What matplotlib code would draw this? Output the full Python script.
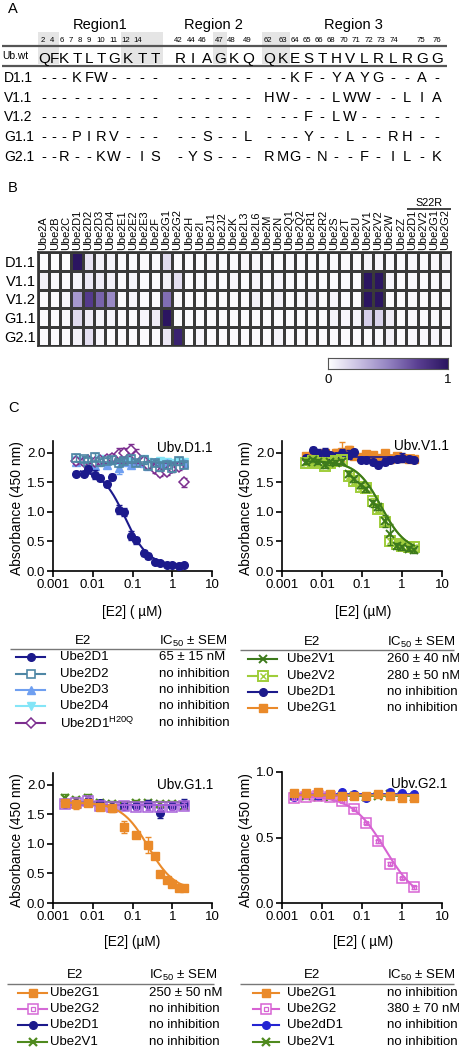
import numpy as np
import matplotlib
matplotlib.use('Agg')
import matplotlib.pyplot as plt
from matplotlib.lines import Line2D
from matplotlib.patches import Rectangle
from matplotlib.colors import LinearSegmentedColormap
from matplotlib.ticker import NullLocator

plt.rcParams['font.family'] = ['Liberation Sans', 'DejaVu Sans']
plt.rcParams['mathtext.fontset'] = 'custom'
plt.rcParams['mathtext.rm'] = 'Liberation Sans'
plt.rcParams['mathtext.it'] = 'Liberation Sans'

# ---------------------------------------------------------------- data
# Panel A: sequences
region_names = ['Region1', 'Region 2', 'Region 3']
positions = [[2, 4, 6, 7, 8, 9, 10, 11, 12, 14],
             [42, 44, 46, 47, 48, 49],
             [62, 63, 64, 65, 66, 68, 70, 71, 72, 73, 74, 75, 76]]
wt_seq = ['QFKTLTGKTT', 'RIAGKQ', 'QKESTHVLRLRGG']
variant_names = ['D1.1', 'V1.1', 'V1.2', 'G1.1', 'G2.1']
seq_D1_1 = ['---KFW----', '------', '--KF-YAYG--A-']
seq_V1_1 = ['----------', '------', 'HW---LWW--LIA']
seq_V1_2 = ['----------', '------', '---F-LW------']
seq_G1_1 = ['---PIRV---', '--S--L', '---Y--L--RH--']
seq_G2_1 = ['--R--KW-IS', '-YS---', 'RMG-N--F-IL-K']
variant_seqs = [seq_D1_1, seq_V1_1, seq_V1_2, seq_G1_1, seq_G2_1]

# Panel B: heatmap
e2_names = ['Ube2A', 'Ube2B', 'Ube2C', 'Ube2D1', 'Ube2D2', 'Ube2D3', 'Ube2D4',
            'Ube2E1', 'Ube2E2', 'Ube2E3', 'Ube2F', 'Ube2G1', 'Ube2G2', 'Ube2H',
            'Ube2I', 'Ube2J1', 'Ube2J2', 'Ube2K', 'Ube2L3', 'Ube2L6', 'Ube2M',
            'Ube2N', 'Ube2Q1', 'Ube2Q2', 'Ube2R1', 'Ube2R2', 'Ube2S', 'Ube2T',
            'Ube2U', 'Ube2V1', 'Ube2V2', 'Ube2W', 'Ube2Z',
            'Ube2D1', 'Ube2V2', 'Ube2G1', 'Ube2G2']
hm_D1_1 = [0.01, 0.01, 0.01, 1.00, 0.12, 0.06, 0.05, 0.02, 0.02, 0.02, 0.02, 0.15, 0.02,
           0.02, 0.02, 0.03, 0.02, 0.02, 0.03, 0.03, 0.02, 0.02, 0.03, 0.02, 0.02, 0.02,
           0.02, 0.02, 0.02, 0.05, 0.04, 0.03, 0.02, 0.03, 0.02, 0.03, 0.04]
hm_V1_1 = [0.06, 0.03, 0.02, 0.05, 0.09, 0.08, 0.06, 0.02, 0.05, 0.02, 0.02, 0.06, 0.13,
           0.02, 0.03, 0.03, 0.02, 0.04, 0.02, 0.04, 0.02, 0.04, 0.03, 0.02, 0.02, 0.02,
           0.02, 0.02, 0.02, 1.00, 1.00, 0.05, 0.02, 0.03, 0.02, 0.03, 0.03]
hm_V1_2 = [0.02, 0.02, 0.04, 0.42, 0.78, 0.62, 0.48, 0.02, 0.04, 0.02, 0.02, 0.58, 0.03,
           0.02, 0.02, 0.02, 0.02, 0.02, 0.02, 0.06, 0.02, 0.06, 0.02, 0.03, 0.06, 0.02,
           0.04, 0.02, 0.02, 1.00, 1.00, 0.02, 0.02, 0.03, 0.02, 0.02, 0.02]
hm_G1_1 = [0.02, 0.02, 0.03, 0.15, 0.08, 0.05, 0.05, 0.02, 0.02, 0.04, 0.08, 1.00, 0.02,
           0.02, 0.02, 0.02, 0.02, 0.02, 0.02, 0.02, 0.02, 0.02, 0.02, 0.02, 0.02, 0.02,
           0.05, 0.04, 0.05, 0.20, 0.18, 0.08, 0.02, 0.03, 0.02, 0.03, 0.02]
hm_G2_1 = [0.02, 0.02, 0.02, 0.06, 0.13, 0.04, 0.02, 0.02, 0.02, 0.02, 0.02, 0.10, 0.92,
           0.02, 0.04, 0.02, 0.02, 0.02, 0.02, 0.02, 0.02, 0.05, 0.02, 0.02, 0.02, 0.02,
           0.02, 0.02, 0.02, 0.02, 0.03, 0.06, 0.02, 0.03, 0.03, 0.04, 0.02]

# Panel C: ELISA data (concentration in uM, absorbance at 450 nm)
conc_dense = [0.0039, 0.0059, 0.0078, 0.0117, 0.0156, 0.023, 0.031, 0.047, 0.0625, 0.094,
              0.125, 0.19, 0.25, 0.375, 0.5, 0.75, 1.0, 1.5, 2.0]
conc_2fold = [0.00195, 0.0039, 0.0078, 0.0156, 0.031, 0.0625, 0.125, 0.25, 0.5, 1.0, 2.0]
conc_G11_G1 = [0.00195, 0.0039, 0.0078, 0.0156, 0.031, 0.0625, 0.125, 0.25, 0.375, 0.5,
               0.75, 1.0, 1.5, 2.0]

# Ubv.D1.1
d11_D1 = [1.65, 1.64, 1.72, 1.63, 1.58, 1.47, 1.59, 1.04, 1.00, 0.60, 0.52, 0.31, 0.25, 0.15,
          0.14, 0.11, 0.11, 0.09, 0.10]
d11_D1_err = [0.05, 0.04, 0.06, 0.08, 0.05, 0.04, 0.05, 0.08, 0.07, 0.07, 0.06, 0.05, 0.05,
              0.03, 0.03, 0.03, 0.03, 0.05, 0.03]
d11_D2 = [1.92, 1.90, 1.85, 1.93, 1.84, 1.86, 1.88, 1.82, 1.86, 1.90, 1.83, 1.88, 1.78, 1.83,
          1.76, 1.80, 1.74, 1.86, 1.79]
d11_D2_err = [0.06, 0.05, 0.08, 0.07, 0.06, 0.05, 0.07, 0.06, 0.05, 0.06, 0.05, 0.07, 0.06,
              0.05, 0.06, 0.05, 0.06, 0.07, 0.05]
d11_D3 = [1.85, 1.88, 1.82, 1.78, 1.86, 1.80, 1.90, 1.74, 1.84, 1.80, 1.86, 1.82, 1.78, 1.84,
          1.80, 1.82, 1.77, 1.80, 1.82]
d11_D3_err = [0.05, 0.05, 0.06, 0.05, 0.06, 0.05, 0.08, 0.10, 0.05, 0.06, 0.05, 0.05, 0.06,
              0.05, 0.05, 0.05, 0.06, 0.05, 0.05]
d11_D4 = [1.88, 1.84, 1.86, 1.83, 1.90, 1.85, 1.87, 1.86, 1.92, 1.88, 1.84, 1.90, 1.85, 1.82,
          1.86, 1.84, 1.83, 1.86, 1.85]
d11_D4_err = [0.05, 0.05, 0.05, 0.06, 0.05, 0.05, 0.06, 0.05, 0.05, 0.06, 0.05, 0.05, 0.05,
              0.06, 0.05, 0.05, 0.05, 0.05, 0.05]
d11_H20Q = [1.86, 1.84, 1.88, 1.85, 1.87, 1.90, 1.92, 1.98, 2.00, 2.05, 1.95, 1.86, 1.80,
            1.72, 1.66, 1.68, 1.74, 1.76, 1.50]
d11_H20Q_err = [0.05, 0.05, 0.05, 0.05, 0.05, 0.06, 0.06, 0.10, 0.08, 0.10, 0.12, 0.06, 0.05,
                0.06, 0.05, 0.06, 0.07, 0.05, 0.08]
d11_fit = [1.72, 0.09, 0.065, 1.5]          # top, bottom, IC50 (uM), Hill

# Ubv.V1.1
v11_V1 = [1.85, 1.88, 1.85, 1.80, 1.84, 1.83, 1.85, 1.65, 1.55, 1.45, 1.38, 1.15, 1.08, 0.85,
          0.62, 0.42, 0.40, 0.38, 0.35]
v11_V1_err = [0.04, 0.04, 0.04, 0.05, 0.04, 0.04, 0.05, 0.05, 0.04, 0.04, 0.05, 0.06, 0.05,
              0.10, 0.18, 0.05, 0.04, 0.04, 0.04]
v11_V2 = [1.83, 1.86, 1.82, 1.78, 1.82, 1.86, 1.88, 1.60, 1.52, 1.42, 1.40, 1.18, 1.05, 0.83,
          0.50, 0.45, 0.42, 0.40, 0.40]
v11_V2_err = [0.04, 0.04, 0.04, 0.04, 0.04, 0.04, 0.05, 0.05, 0.04, 0.04, 0.04, 0.05, 0.05,
              0.05, 0.06, 0.04, 0.04, 0.04, 0.04]
v11_D1 = [1.92, 2.05, 2.00, 2.02, 1.97, 1.95, 2.00, 1.97, 2.02, 1.88, 1.88, 1.85, 1.80, 1.85,
          1.88, 1.90, 1.92, 1.90, 1.88]
v11_D1_err = [0.04, 0.05, 0.06, 0.06, 0.05, 0.05, 0.06, 0.08, 0.05, 0.04, 0.04, 0.05, 0.06,
              0.06, 0.05, 0.05, 0.08, 0.05, 0.04]
v11_G1 = [1.95, 1.97, 1.98, 2.00, 1.95, 2.00, 2.02, 2.05, 1.95, 1.93, 1.98, 1.97, 1.92, 2.00,
          1.90, 1.95, 1.92, 1.90, 1.90]
v11_G1_err = [0.04, 0.05, 0.05, 0.05, 0.05, 0.06, 0.16, 0.06, 0.05, 0.04, 0.05, 0.05, 0.05,
              0.05, 0.05, 0.05, 0.05, 0.04, 0.04]
v11_fit = [1.86, 0.33, 0.30, 1.4]

# Ubv.G1.1
g11_G1 = [1.70, 1.67, 1.70, 1.62, 1.60, 1.29, 1.15, 0.98, 0.80, 0.49, 0.39, 0.33, 0.25, 0.25]
g11_G1_err = [0.05, 0.08, 0.05, 0.05, 0.06, 0.10, 0.05, 0.14, 0.05, 0.04, 0.04, 0.04, 0.03, 0.03]
g11_G2 = [1.68, 1.70, 1.73, 1.65, 1.62, 1.65, 1.62, 1.63, 1.62, 1.63, 1.65]
g11_G2_err = [0.05, 0.05, 0.06, 0.05, 0.05, 0.06, 0.05, 0.05, 0.05, 0.05, 0.06]
g11_D1 = [1.68, 1.70, 1.72, 1.70, 1.62, 1.65, 1.65, 1.68, 1.52, 1.65, 1.68]
g11_D1_err = [0.05, 0.05, 0.05, 0.05, 0.05, 0.05, 0.05, 0.06, 0.08, 0.06, 0.08]
g11_V1 = [1.78, 1.75, 1.78, 1.70, 1.68, 1.65, 1.70, 1.70, 1.68, 1.68, 1.65]
g11_V1_err = [0.06, 0.05, 0.06, 0.05, 0.05, 0.05, 0.05, 0.05, 0.05, 0.05, 0.05]
g11_fit = [1.70, 0.20, 0.25, 1.3]

# Ubv.G2.1
g21_G1 = [0.84, 0.84, 0.85, 0.83, 0.82, 0.82, 0.82, 0.83, 0.82, 0.80, 0.80]
g21_G2 = [0.80, 0.81, 0.82, 0.81, 0.78, 0.72, 0.61, 0.47, 0.30, 0.19, 0.12]
g21_D1 = [0.81, 0.83, 0.82, 0.83, 0.85, 0.83, 0.80, 0.83, 0.85, 0.84, 0.83]
g21_V1 = [0.82, 0.82, 0.81, 0.81, 0.82, 0.82, 0.81, 0.82, 0.83, 0.82, 0.81]
g21_err = [0.01, 0.01, 0.01, 0.01, 0.01, 0.01, 0.01, 0.01, 0.01, 0.01, 0.01]
g21_fit = [0.82, 0.0, 0.38, 1.05]

# Legend tables
tab_D11_names = ['Ube2D1', 'Ube2D2', 'Ube2D3', 'Ube2D4', r'Ube2D1$^{\mathregular{H20Q}}$']
tab_D11_vals = ['65 ± 15 nM', 'no inhibition', 'no inhibition', 'no inhibition', 'no inhibition']
tab_V11_names = ['Ube2V1', 'Ube2V2', 'Ube2D1', 'Ube2G1']
tab_V11_vals = ['260 ± 40 nM', '280 ± 50 nM', 'no inhibition', 'no inhibition']
tab_G11_names = ['Ube2G1', 'Ube2G2', 'Ube2D1', 'Ube2V1']
tab_G11_vals = ['250 ± 50 nM', 'no inhibition', 'no inhibition', 'no inhibition']
tab_G21_names = ['Ube2G1', 'Ube2G2', 'Ube2dD1', 'Ube2V1']
tab_G21_vals = ['no inhibition', '380 ± 70 nM', 'no inhibition', 'no inhibition']

# ---------------------------------------------------------------- styles
navy = '#1c1a8c'
st_D1 = dict(color=navy, marker='o', mfc=navy, ms=5.5, mew=1.0)
st_D1b = dict(color='#2424d2', marker='o', mfc='#2424d2', ms=5.5, mew=1.0)
st_D2 = dict(color='#4f87a5', marker='s', mfc='none', ms=6, mew=1.2)
st_D3 = dict(color='#6f9ff0', marker='^', mfc='#6f9ff0', ms=6, mew=1.0)
st_D4 = dict(color='#84e5f7', marker='v', mfc='#84e5f7', ms=6, mew=1.0)
st_H20Q = dict(color='#7c2e8f', marker='D', mfc='white', ms=5, mew=1.1)
st_V1 = dict(color='#3d7a1c', marker='x', mfc='#3d7a1c', ms=6, mew=1.4)
st_V1b = dict(color='#4f8a1e', marker='x', mfc='#4f8a1e', ms=6, mew=1.6)
st_V2 = dict(color='#9fcd3a', marker='s', mfc='none', ms=6.5, mew=1.4, inner='x')
st_G1 = dict(color='#ea8a2a', marker='s', mfc='#ea8a2a', ms=6, mew=1.0)
st_G2a = dict(color='#a862da', marker='s', mfc='none', ms=6.5, mew=1.1, inner='s')
st_G2b = dict(color='#d763d3', marker='s', mfc='none', ms=6.5, mew=1.1, inner='s')
st_G2L = dict(color='#d46ad6', marker='s', mfc='none', ms=6.5, mew=1.1, inner='s')

W, H = 459, 1050
fig = plt.figure(figsize=(W / 100, H / 100), dpi=100)


def fx(x):
    return x / W


def fy(y):
    return 1 - y / H


def txt(x, y, s, size=9.0, ha='left', va='center', **kw):
    fig.text(fx(x), fy(y), s, fontsize=size, ha=ha, va=va, **kw)


def hline(x0, x1, y, lw=1.0, color='#333333'):
    fig.add_artist(Line2D([fx(x0), fx(x1)], [fy(y), fy(y)], transform=fig.transFigure,
                          lw=lw, color=color, solid_capstyle='butt'))


# ---------------------------------------------------------------- panel A
letter_x = [44, 54, 64, 77, 89, 101, 114, 128, 142, 155,
            180, 193, 207, 220, 234, 248,
            269, 283, 295, 308, 322, 336, 350, 364, 378, 393, 407, 422, 437]
num_x = [43, 52, 62, 71, 80, 89, 101, 113, 126, 138,
         178, 191, 202, 219, 231, 247,
         268, 283, 295, 307, 319, 331, 344, 356, 369, 381, 394, 421, 437]
region_cx = [100, 213, 353]
shade = [(38, 59), (121, 163), (213, 227), (262, 290)]
row_y = [78, 98, 117, 137, 157]

txt(8, 9, 'A', 10.5)
for nm, cx in zip(region_names, region_cx):
    txt(cx, 25, nm, 10.5, ha='center')
for x0, x1 in shade:
    fig.add_artist(Rectangle((fx(x0), fy(64)), (x1 - x0) / W, 32 / H,
                             transform=fig.transFigure, color='#e5e5e5', lw=0, zorder=0))
all_pos = [p for grp in positions for p in grp]
for p, x in zip(all_pos, num_x):
    txt(x, 41, str(p), 5.6, ha='center')
hline(2, 447, 45.6, lw=1.6, color='#555555')
hline(2, 447, 65.6, lw=1.6, color='#555555')
txt(2, 56.5, 'Ub.wt', 7.4)
wt_letters = ''.join(wt_seq)
for ch, x in zip(wt_letters, letter_x):
    txt(x, 59, ch, 11, ha='center')
for nm, seqs, y in zip(variant_names, variant_seqs, row_y):
    txt(4, y, nm, 10)
    for ch, x in zip(''.join(seqs), letter_x):
        txt(x, y, ch, 10.5, ha='center')

# ---------------------------------------------------------------- panel B
txt(8, 188, 'B', 10.5)
cmap = LinearSegmentedColormap.from_list(
    'pur', [(0, '#ffffff'), (0.25, '#cbc2e3'), (0.5, '#9484c2'), (0.75, '#5a3f92'),
            (1, '#2b1560')])
hm = np.array([hm_D1_1, hm_V1_1, hm_V1_2, hm_G1_1, hm_G2_1])
ax_hm = fig.add_axes([fx(38), fy(346), (451 - 38) / W, (346 - 252) / H])
ax_hm.pcolormesh(hm, cmap=cmap, vmin=0, vmax=1, edgecolors='#3a3a3a', linewidth=0.9)
ax_hm.set_xlim(0, len(e2_names))
ax_hm.set_ylim(len(variant_names), 0)
ax_hm.set_xticks(np.arange(len(e2_names)) + 0.5)
ax_hm.set_xticklabels(e2_names, rotation=90, fontsize=7.9)
ax_hm.xaxis.tick_top()
ax_hm.set_yticks(np.arange(len(variant_names)) + 0.5)
ax_hm.set_yticklabels(variant_names, fontsize=10.5)
ax_hm.tick_params(length=0, pad=1.5)
for sp in ax_hm.spines.values():
    sp.set_linewidth(1.2)
    sp.set_color('#333333')
txt(429, 203, 'S22R', 7.8, ha='center')
hline(407, 451, 209, lw=1.2, color='#222222')

ax_cb = fig.add_axes([fx(328), fy(369), 120 / W, 11 / H])
ax_cb.imshow(np.linspace(0, 1, 256)[None, :], aspect='auto', cmap=cmap,
             extent=[0, 1, 0, 1])
ax_cb.set_xticks([])
ax_cb.set_yticks([])
for sp in ax_cb.spines.values():
    sp.set_linewidth(0.8)
    sp.set_color('#555555')
txt(328, 380, '0', 9.5, ha='center')
txt(448, 380, '1', 9.5, ha='center')

# ---------------------------------------------------------------- panel C
txt(8, 408, 'C', 10.5)


def setup_ax(ax, ytop, yticks):
    ax.set_xscale('log')
    ax.set_xlim(0.001, 10)
    ax.set_ylim(0, ytop)
    ax.set_xticks([0.001, 0.01, 0.1, 1, 10])
    ax.set_xticklabels(['0.001', '0.01', '0.1', '1', '10'])
    ax.xaxis.set_minor_locator(NullLocator())
    ax.set_yticks(yticks)
    ax.set_yticklabels(['%.1f' % v for v in yticks])
    for s in ['top', 'right']:
        ax.spines[s].set_visible(False)
    for s in ['left', 'bottom']:
        ax.spines[s].set_linewidth(1.2)
    ax.tick_params(direction='out', length=4, width=1.2, labelsize=9.5, pad=1.5)
    ax.patch.set_alpha(0)


def draw_marker(ax, x, y, st, z):
    ax.plot(x, y, ls='none', marker=st['marker'], ms=st['ms'], mfc=st['mfc'],
            mec=st['color'], mew=st['mew'], zorder=z, clip_on=False)
    inner = st.get('inner')
    if inner == 'x':
        ax.plot(x, y, ls='none', marker='x', ms=st['ms'] * 0.7, mec=st['color'],
                mew=1.0, zorder=z, clip_on=False)
    elif inner == 's':
        ax.plot(x, y, ls='none', marker='s', ms=st['ms'] * 0.45, mfc='none',
                mec=st['color'], mew=0.9, zorder=z, clip_on=False)


def draw_series(ax, x, y, err, st, z, flat=True):
    ax.errorbar(x, y, yerr=err, fmt='none', ecolor=st['color'], elinewidth=1.0,
                capsize=2.5, capthick=1.0, zorder=z - 0.5, clip_on=False)
    if flat:
        m = np.mean(y)
        ax.plot([x[0], x[-1]], [m, m], color=st['color'], lw=1.2, zorder=z - 0.6)
    draw_marker(ax, x, y, st, z)


def draw_fit(ax, params, x0, x1, color, z):
    top, bottom, ic50, hill = params
    xs = np.logspace(np.log10(x0), np.log10(x1), 200)
    ax.plot(xs, bottom + (top - bottom) / (1 + (xs / ic50) ** hill), color=color,
            lw=1.5, zorder=z)


def panel_axes(left, top, width, height=130):
    return fig.add_axes([fx(left), fy(top + height), width / W, height / H])


# Ubv.D1.1
ax1 = panel_axes(53, 441, 159)
setup_ax(ax1, 2.2, [0.0, 0.5, 1.0, 1.5, 2.0])
draw_series(ax1, conc_dense, d11_D4, d11_D4_err, st_D4, 3)
draw_series(ax1, conc_dense, d11_D3, d11_D3_err, st_D3, 4)
draw_series(ax1, conc_dense, d11_H20Q, d11_H20Q_err, st_H20Q, 5)
draw_series(ax1, conc_dense, d11_D2, d11_D2_err, st_D2, 6)
draw_fit(ax1, d11_fit, 0.005, 2.0, navy, 7)
draw_series(ax1, conc_dense, d11_D1, d11_D1_err, st_D1, 8, flat=False)

# Ubv.V1.1
ax2 = panel_axes(282, 441, 160)
setup_ax(ax2, 2.2, [0.0, 0.5, 1.0, 1.5, 2.0])
draw_series(ax2, conc_dense, v11_G1, v11_G1_err, st_G1, 3)
draw_series(ax2, conc_dense, v11_D1, v11_D1_err, st_D1, 4)
draw_series(ax2, conc_dense, v11_V2, v11_V2_err, st_V2, 5, flat=False)
draw_fit(ax2, v11_fit, 0.0039, 2.0, st_V2['color'], 5.7)
draw_fit(ax2, v11_fit, 0.0039, 2.0, st_V1['color'], 5.8)
draw_series(ax2, conc_dense, v11_V1, v11_V1_err, st_V1, 6, flat=False)

# Ubv.G1.1
ax3 = panel_axes(53, 773, 159)
setup_ax(ax3, 2.2, [0.0, 0.5, 1.0, 1.5, 2.0])
draw_series(ax3, conc_2fold, g11_V1, g11_V1_err, st_V1b, 3)
draw_series(ax3, conc_2fold, g11_D1, g11_D1_err, st_D1, 4)
draw_series(ax3, conc_2fold, g11_G2, g11_G2_err, st_G2a, 5)
draw_fit(ax3, g11_fit, 0.002, 2.0, st_G1['color'], 6)
draw_series(ax3, conc_G11_G1, g11_G1, g11_G1_err, st_G1, 7, flat=False)

# Ubv.G2.1
ax4 = panel_axes(282, 772, 160, 131)
setup_ax(ax4, 1.0, [0.0, 0.5, 1.0])
draw_series(ax4, conc_2fold, g21_V1, g21_err, st_V1b, 3)
draw_series(ax4, conc_2fold, g21_D1, g21_err, st_D1b, 4)
draw_fit(ax4, g21_fit, 0.002, 2.0, st_G2b['color'], 5)
draw_series(ax4, conc_2fold, g21_G2, g21_err, st_G2b, 6, flat=False)
draw_series(ax4, conc_2fold, g21_G1, g21_err, st_G1, 7)

# titles, axis labels
txt(213, 448, 'Ubv.D1.1', 9.8, ha='right')
txt(449, 446, 'Ubv.V1.1', 9.8, ha='right')
txt(213, 785, 'Ubv.G1.1', 9.8, ha='right')
txt(447, 784, 'Ubv.G2.1', 9.8, ha='right')
for x, y in [(17, 508), (246, 508), (17, 840), (246, 840)]:
    txt(x, y, 'Absorbance (450 nm)', 10, ha='center', rotation=90)
txt(132, 612, '[E2] ( µM)', 9.8, ha='center')
txt(363, 612, '[E2] (µM)', 9.8, ha='center')
txt(132, 942, '[E2] (µM)', 9.8, ha='center')
txt(363, 942, '[E2] ( µM)', 9.8, ha='center')


# ---------------------------------------------------------------- legend tables
def legend_marker(x0, x1, y, st):
    xm = (x0 + x1) / 2
    fig.add_artist(Line2D([fx(x0), fx(x1)], [fy(y), fy(y)], transform=fig.transFigure,
                          color=st['color'], lw=1.5))
    fig.add_artist(Line2D([fx(xm)], [fy(y)], transform=fig.transFigure, ls='none',
                          marker=st['marker'], ms=st['ms'],
                          mfc=('white' if st['mfc'] == 'none' else st['mfc']),
                          mec=st['color'], mew=st['mew']))
    inner = st.get('inner')
    if inner == 'x':
        fig.add_artist(Line2D([fx(xm)], [fy(y)], transform=fig.transFigure, ls='none',
                              marker='x', ms=st['ms'] * 0.7, mec=st['color'], mew=1.0))
    elif inner == 's':
        fig.add_artist(Line2D([fx(xm)], [fy(y)], transform=fig.transFigure, ls='none',
                              marker='s', ms=st['ms'] * 0.45, mfc='none',
                              mec=st['color'], mew=0.9))


def table(e2x, icx, hy, ly, lx0, lx1, rows_y, mx0, mx1, namex, names, vals, styles):
    txt(e2x, hy, 'E2', 9.5, ha='center')
    txt(icx, hy, r'IC$_{\mathregular{50}}$ ± SEM', 9.5)
    hline(lx0, lx1, ly, lw=1.0, color='#777777')
    for y, nm, v, st in zip(rows_y, names, vals, styles):
        legend_marker(mx0, mx1, y, st)
        txt(namex, y, nm, 9.5)
        txt(icx, y, v, 9.5)


table(83, 159, 641, 649, 10, 225, [657, 674, 690, 706, 723], 16, 45, 60,
      tab_D11_names, tab_D11_vals, [st_D1, st_D2, st_D3, st_D4, st_H20Q])
table(312, 387, 642, 650, 240, 454, [659, 676, 692, 708], 248, 277, 287,
      tab_V11_names, tab_V11_vals, [st_V1, st_V2, st_D1, st_G1])
table(75, 149, 975, 984, 7, 214, [993, 1009, 1025, 1042], 18, 47, 50,
      tab_G11_names, tab_G11_vals, [st_G1, st_G2L, st_D1, st_V1b])
table(312, 387, 975, 984, 240, 454, [993, 1009, 1025, 1042], 253, 279, 287,
      tab_G21_names, tab_G21_vals, [st_G1, st_G2b, st_D1b, st_V1b])

fig.savefig('out.png', dpi=100)
